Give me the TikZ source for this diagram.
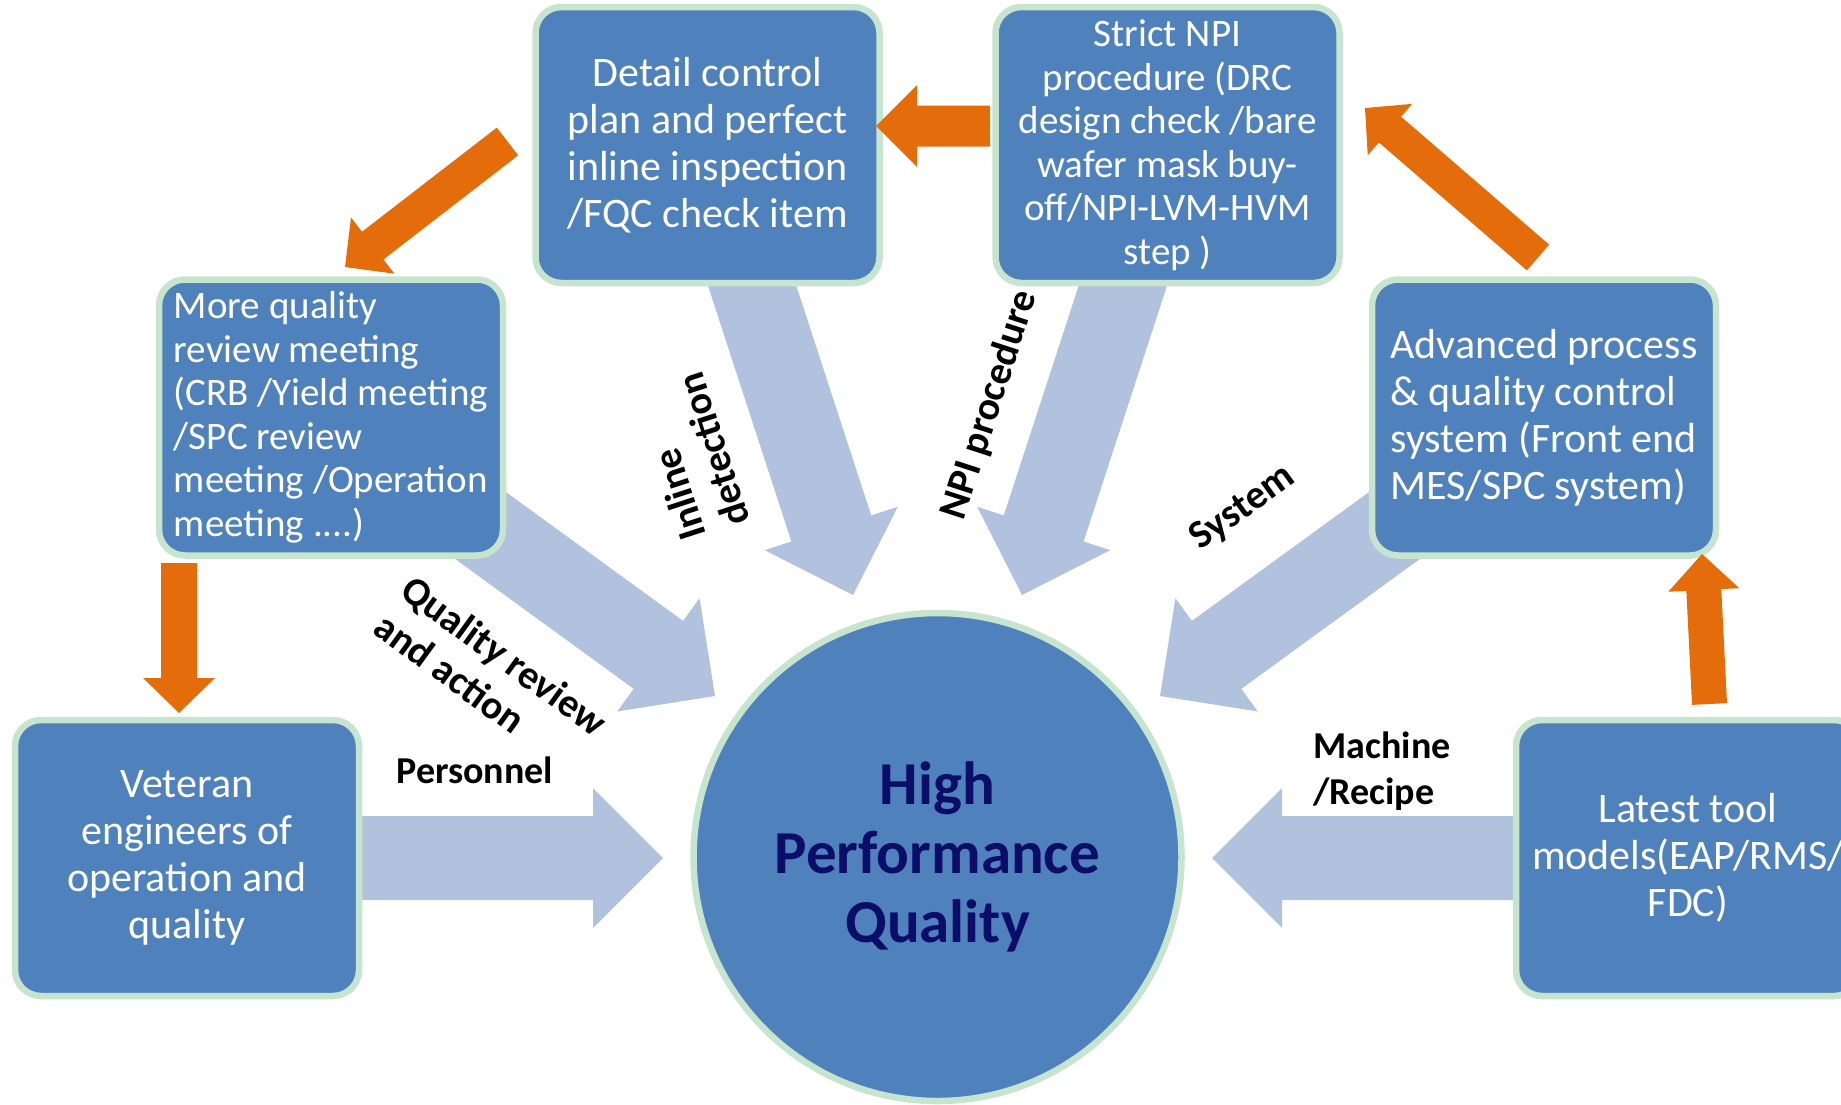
\documentclass[tikz,border=0pt]{standalone}
\usepackage{fontspec}
\setmainfont{Carlito}
\usetikzlibrary{calc}
\definecolor{boxblue}{RGB}{79,129,189}
\definecolor{mint}{RGB}{199,229,206}
\definecolor{paleblue}{RGB}{176,194,222}
\definecolor{orng}{RGB}{228,108,10}
\definecolor{navy}{RGB}{12,12,105}
% block arrow: style, tail, tip, shaft half width, head half width, head length
\newcommand{\blockarrow}[6]{%
  \coordinate (bahead) at ($(#3)!#6!(#2)$);
  \fill[#1] ($(#2)!#4!90:(#3)$) -- ($(bahead)!#4!-90:(#2)$) -- ($(bahead)!#5!-90:(#2)$)
     -- (#3) -- ($(bahead)!#5!90:(#2)$) -- ($(bahead)!#4!90:(#2)$) -- ($(#2)!#4!-90:(#3)$) -- cycle;}
\tikzset{
  qbox/.style={rectangle, rounded corners=13pt, fill=boxblue, draw=mint, line width=3.25pt,
    text=white, inner sep=0pt, minimum width=172pt, minimum height=138pt},
  bigtext/.style={font=\fontsize{21pt}{23.5pt}\selectfont},
  smalltext/.style={font=\fontsize{19.5pt}{21.75pt}\selectfont},
  lbl/.style={inner sep=0pt, text=black, font=\bfseries\fontsize{19pt}{23pt}\selectfont},
  rlbl/.style={inner sep=0pt, text=black, font=\bfseries\fontsize{20pt}{23pt}\selectfont},
  flow/.style={fill=paleblue},
  loop/.style={fill=orng}
}
\begin{document}
\begin{tikzpicture}[x=0.5pt,y=-0.5pt]
\useasboundingbox (0,0) rectangle (1841,1104);
\clip (0,0) rectangle (1841,1104);

% end points of the arrows
\coordinate (pers-t) at (300,858);   \coordinate (pers-h) at (663,858);
\coordinate (mach-t) at (1570,858);  \coordinate (mach-h) at (1212,858);
\coordinate (qual-t) at (440,496);   \coordinate (qual-h) at (715,696);
\coordinate (syst-t) at (1435,496);  \coordinate (syst-h) at (1160,696);
\coordinate (inl-t) at (740.5,250);  \coordinate (inl-h) at (853,595);
\coordinate (npi-t) at (1134.5,250); \coordinate (npi-h) at (1022,595);

% pale blue arrows towards the centre
\blockarrow{flow}{pers-t}{pers-h}{21pt}{35pt}{35pt}
\blockarrow{flow}{mach-t}{mach-h}{21pt}{35pt}{35pt}
\blockarrow{flow}{qual-t}{qual-h}{21pt}{35pt}{35pt}
\blockarrow{flow}{syst-t}{syst-h}{21pt}{35pt}{35pt}
\blockarrow{flow}{inl-t}{inl-h}{21pt}{35pt}{35pt}
\blockarrow{flow}{npi-t}{npi-h}{21pt}{35pt}{35pt}

% boxes
\node[qbox, bigtext, align=center] (detail) at (707.5,145)
  {Detail control\\plan and perfect\\inline inspection\\/FQC check item};
\node[qbox, smalltext, align=center] (strict) at (1167.5,145)
  {Strict NPI\\procedure (DRC\\design check /bare\\wafer mask buy-\\off/NPI-LVM-HVM\\step )};
\node[qbox, smalltext, align=left] (review) at (331,417.5)
  {More quality\\review meeting\\(CRB /Yield meeting\\/SPC review\\meeting /Operation\\meeting ....)};
\node[qbox, bigtext, align=left] (advanced) at (1544,417.5)
  {Advanced process\\\& quality control\\system (Front end\\MES/SPC system)};
\node[qbox, bigtext, align=center] (veteran) at (187,858)
  {Veteran\\engineers of\\operation and\\quality};
\node[qbox, bigtext, align=center] (latest) at (1688,858)
  {Latest tool\\models(EAP/RMS/\\FDC)};

% centre
\node[circle, fill=boxblue, draw=mint, line width=3.25pt, inner sep=0pt, minimum size=244pt,
  text=navy, align=center, font=\bfseries\fontsize{30.5pt}{34.5pt}\selectfont] (hpq) at (937.5,857)
  {High\\Performance\\Quality};

% orange loop arrows
\coordinate (o1-t) at (990,126);     \coordinate (o1-h) at (876,126);
\coordinate (o2-t) at (507.5,141.5); \coordinate (o2-h) at (345,267);
\coordinate (o3-t) at (179,563);     \coordinate (o3-h) at (179,713);
\coordinate (o4-t) at (1709.5,704);  \coordinate (o4-h) at (1702,554);
\coordinate (o5-t) at (1538,257.5);  \coordinate (o5-h) at (1365,108);
\blockarrow{loop}{o1-t}{o1-h}{10.25pt}{20.5pt}{20.5pt}
\blockarrow{loop}{o2-t}{o2-h}{8.75pt}{17.75pt}{17.5pt}
\blockarrow{loop}{o3-t}{o3-h}{9pt}{18pt}{17.5pt}
\blockarrow{loop}{o4-t}{o4-h}{8.75pt}{17.75pt}{18pt}
\blockarrow{loop}{o5-t}{o5-h}{8.5pt}{17pt}{16.5pt}

% labels
\node[lbl, anchor=base west] (personnel) at (396,783) {Personnel};
\node[lbl, align=left, anchor=west] (machine) at (1313,771) {Machine\\/Recipe};
\node[rlbl, align=left, rotate=-36] (qrlabel) at (491,674) {Quality review\\and action};
\node[rlbl, align=left, rotate=108] (inlabel) at (691,457) {Inline\\detection};
\node[rlbl, rotate=72] (npilabel) at (990,405) {NPI procedure};
\node[rlbl, rotate=36] (syslabel) at (1243,508) {System};
\end{tikzpicture}
\end{document}
